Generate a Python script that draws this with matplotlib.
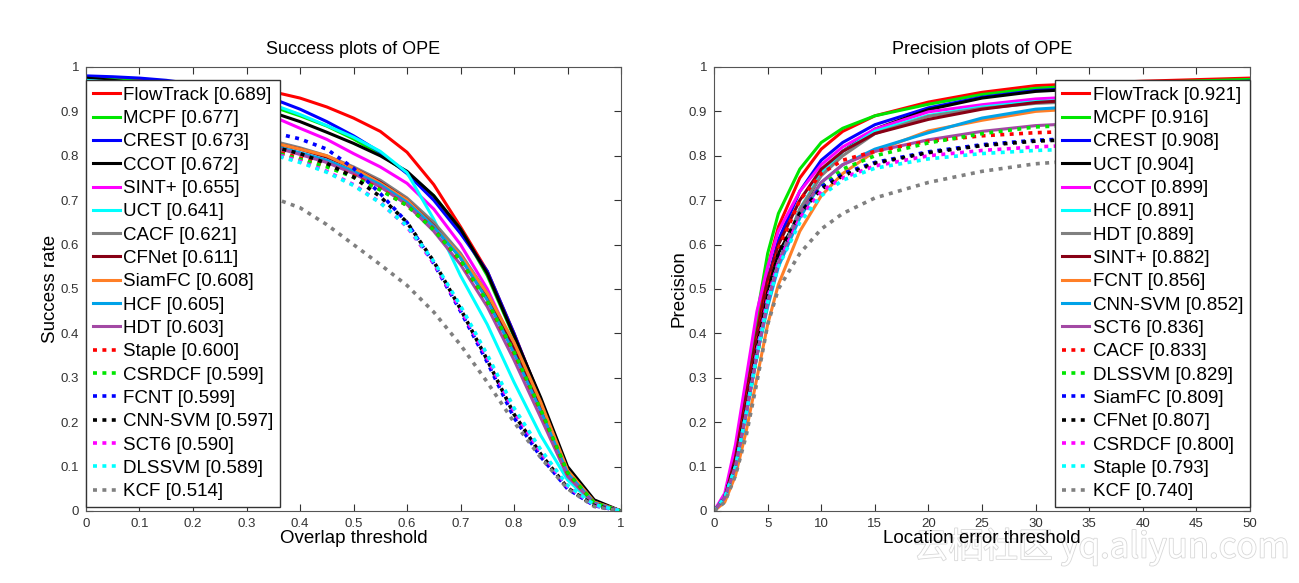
import matplotlib
matplotlib.use("Agg")
import matplotlib.pyplot as plt
import matplotlib.patheffects as pe

plt.rcParams['font.family'] = ['Liberation Sans', 'DejaVu Sans']

# OTB style list: colour per rank, first 11 solid then 7 dotted
colors = [(1, 0, 0), (0, 0.9, 0), (0, 0, 1), (0, 0, 0), (1, 0, 1), (0, 1, 1),
          (0.5, 0.5, 0.5), (136/255, 0, 21/255), (255/255, 127/255, 39/255),
          (0, 162/255, 232/255), (163/255, 73/255, 164/255),
          (1, 0, 0), (0, 0.9, 0), (0, 0, 1), (0, 0, 0), (1, 0, 1), (0, 1, 1),
          (0.5, 0.5, 0.5)]
styles = ['-'] * 11 + [':'] * 7

# ---- Success plot (overlap threshold) ----
succ_thr = [0, .05, .1, .15, .2, .25, .3, .35, .4, .45, .5, .55, .6, .65, .7, .75, .8, .85, .9, .95, 1]
succ_names = ["FlowTrack", "MCPF", "CREST", "CCOT", "SINT+", "UCT", "CACF", "CFNet", "SiamFC",
              "HCF", "HDT", "Staple", "CSRDCF", "FCNT", "CNN-SVM", "SCT6", "DLSSVM", "KCF"]
succ_scores = [0.689, 0.677, 0.673, 0.672, 0.655, 0.641, 0.621, 0.611, 0.608,
               0.605, 0.603, 0.600, 0.599, 0.599, 0.597, 0.590, 0.589, 0.514]
succ_flowtrack = [.975, .973, .970, .967, .963, .958, .952, .944, .930, .910, .885, .855, .808, .735, .640, .540, .400, .250, .095, .020, 0]
succ_mcpf = [.975, .972, .968, .962, .955, .945, .930, .910, .890, .867, .838, .803, .762, .710, .635, .530, .392, .250, .092, .020, 0]
succ_crest = [.980, .978, .975, .970, .962, .952, .941, .928, .905, .877, .845, .808, .760, .700, .625, .540, .400, .248, .090, .020, 0]
succ_ccot = [.975, .970, .963, .955, .943, .930, .915, .897, .877, .853, .828, .800, .765, .710, .635, .535, .395, .255, .100, .025, 0]
succ_sint = [.970, .964, .955, .945, .932, .918, .903, .888, .862, .837, .805, .775, .738, .680, .600, .500, .370, .230, .085, .018, 0]
succ_uct = [.970, .966, .961, .955, .947, .937, .926, .915, .893, .868, .842, .810, .762, .657, .530, .420, .290, .170, .070, .015, 0]
succ_cacf = [.965, .955, .940, .920, .895, .870, .850, .833, .818, .800, .775, .745, .705, .650, .580, .490, .375, .240, .090, .020, 0]
succ_cfnet = [.960, .950, .935, .915, .890, .865, .845, .828, .815, .797, .772, .740, .700, .642, .570, .480, .365, .235, .088, .020, 0]
succ_siamfc = [.960, .950, .935, .913, .888, .862, .843, .829, .815, .800, .772, .738, .700, .640, .575, .490, .380, .245, .092, .020, 0]
succ_hcf = [.960, .950, .935, .913, .888, .862, .840, .822, .807, .790, .765, .735, .695, .640, .570, .475, .355, .225, .085, .018, 0]
succ_hdt = [.960, .950, .935, .913, .888, .862, .840, .820, .803, .785, .760, .730, .690, .630, .555, .460, .340, .210, .078, .016, 0]
succ_staple = [.955, .945, .928, .905, .878, .850, .828, .812, .795, .778, .755, .725, .688, .635, .562, .470, .355, .225, .085, .018, 0]
succ_csrdcf = [.955, .945, .928, .905, .878, .850, .826, .808, .792, .775, .752, .723, .688, .633, .565, .472, .358, .228, .087, .018, 0]
succ_fcnt = [.960, .950, .937, .920, .900, .882, .866, .852, .838, .815, .772, .715, .650, .557, .450, .335, .210, .122, .050, .012, 0]
succ_cnnsvm = [.955, .943, .927, .905, .880, .855, .835, .820, .805, .783, .752, .708, .650, .562, .455, .340, .218, .128, .052, .012, 0]
succ_sct6 = [.955, .943, .925, .902, .875, .847, .822, .805, .788, .765, .735, .695, .640, .558, .455, .345, .225, .132, .055, .013, 0]
succ_dlssvm = [.955, .943, .925, .902, .875, .847, .820, .802, .785, .763, .733, .694, .642, .562, .462, .352, .232, .138, .058, .014, 0]
succ_kcf = [.900, .880, .855, .830, .800, .765, .735, .705, .683, .645, .600, .555, .508, .448, .374, .290, .200, .120, .050, .010, 0]
succ_curves = [succ_flowtrack, succ_mcpf, succ_crest, succ_ccot, succ_sint, succ_uct, succ_cacf,
               succ_cfnet, succ_siamfc, succ_hcf, succ_hdt, succ_staple, succ_csrdcf, succ_fcnt,
               succ_cnnsvm, succ_sct6, succ_dlssvm, succ_kcf]

# ---- Precision plot (location error threshold) ----
prec_thr = [0, 1, 2, 3, 4, 5, 6, 8, 10, 12, 15, 20, 25, 30, 40, 50]
prec_names = ["FlowTrack", "MCPF", "CREST", "UCT", "CCOT", "HCF", "HDT", "SINT+", "FCNT",
              "CNN-SVM", "SCT6", "CACF", "DLSSVM", "SiamFC", "CFNet", "CSRDCF", "Staple", "KCF"]
prec_scores = [0.921, 0.916, 0.908, 0.904, 0.899, 0.891, 0.889, 0.882, 0.856,
               0.852, 0.836, 0.833, 0.829, 0.809, 0.807, 0.800, 0.793, 0.740]
prec_flowtrack = [0, .03, .12, .27, .42, .55, .64, .75, .815, .855, .89, .921, .943, .958, .968, .975]
prec_mcpf = [0, .03, .12, .28, .44, .58, .67, .77, .83, .862, .89, .916, .938, .952, .965, .972]
prec_crest = [0, .03, .11, .25, .39, .52, .61, .72, .79, .83, .87, .908, .932, .947, .96, .968]
prec_uct = [0, .03, .11, .24, .37, .50, .58, .67, .76, .81, .86, .904, .93, .945, .958, .965]
prec_ccot = [0, .04, .15, .30, .45, .55, .63, .72, .78, .82, .86, .899, .915, .928, .94, .948]
prec_hcf = [0, .03, .10, .22, .35, .47, .56, .68, .76, .81, .855, .891, .91, .922, .932, .94]
prec_hdt = [0, .03, .10, .22, .35, .47, .56, .68, .755, .80, .85, .889, .907, .918, .928, .935]
prec_sint = [0, .03, .12, .26, .40, .52, .60, .70, .77, .81, .85, .882, .905, .92, .935, .945]
prec_fcnt = [0, .02, .08, .18, .30, .42, .51, .63, .71, .76, .81, .856, .88, .90, .915, .925]
prec_cnnsvm = [0, .03, .10, .22, .35, .46, .55, .66, .74, .78, .815, .852, .885, .905, .92, .93]
prec_sct6 = [0, .03, .10, .22, .35, .47, .56, .67, .74, .78, .81, .836, .855, .868, .88, .885]
prec_cacf = [0, .03, .11, .24, .38, .50, .59, .70, .76, .79, .81, .833, .845, .852, .86, .865]
prec_dlssvm = [0, .03, .10, .22, .35, .47, .56, .67, .73, .77, .80, .829, .85, .865, .875, .88]
prec_siamfc = [0, .03, .10, .22, .36, .48, .57, .67, .73, .76, .785, .809, .825, .835, .845, .85]
prec_cfnet = [0, .03, .11, .23, .37, .49, .58, .67, .725, .755, .783, .807, .823, .833, .843, .848]
prec_csrdcf = [0, .03, .10, .22, .36, .48, .56, .66, .72, .75, .777, .800, .812, .82, .83, .835]
prec_staple = [0, .03, .10, .22, .35, .47, .55, .65, .71, .745, .772, .793, .805, .812, .82, .825]
prec_kcf = [0, .02, .08, .17, .29, .42, .50, .58, .635, .67, .705, .740, .765, .782, .80, .81]
prec_curves = [prec_flowtrack, prec_mcpf, prec_crest, prec_uct, prec_ccot, prec_hcf, prec_hdt,
               prec_sint, prec_fcnt, prec_cnnsvm, prec_sct6, prec_cacf, prec_dlssvm, prec_siamfc,
               prec_cfnet, prec_csrdcf, prec_staple, prec_kcf]

succ_ticks = [0, 0.1, 0.2, 0.3, 0.4, 0.5, 0.6, 0.7, 0.8, 0.9, 1]
succ_ticklabels = ["0", "0.1", "0.2", "0.3", "0.4", "0.5", "0.6", "0.7", "0.8", "0.9", "1"]
prec_ticks = [0, 5, 10, 15, 20, 25, 30, 35, 40, 45, 50]
y_ticks = succ_ticks
y_ticklabels = succ_ticklabels

fig = plt.figure(figsize=(12.99, 5.83), dpi=100)
ax1 = fig.add_axes([0.0662, 0.1235, 0.4119, 0.7616])
ax2 = fig.add_axes([0.5497, 0.1235, 0.4126, 0.7616])


def draw(ax, thr, curves, names, scores):
    for i, (vals, name, sc) in enumerate(zip(curves, names, scores)):
        if styles[i] == '-':
            ax.plot(thr, vals, color=colors[i], lw=2.2, label=f"{name} [{sc:.3f}]")
        else:
            ax.plot(thr, vals, color=colors[i], lw=2.6, linestyle=(0, (1.1, 1.5)),
                    label=f"{name} [{sc:.3f}]")
    ax.set_ylim(0, 1)
    ax.set_yticks(y_ticks)
    ax.set_yticklabels(y_ticklabels)
    ax.tick_params(direction='in', length=5, top=True, right=True, labelsize=9.5,
                   colors='#333333', pad=5)
    for s in ax.spines.values():
        s.set_color('#555555')


def add_legend(ax, loc, anchor):
    return ax.legend(loc=loc, bbox_to_anchor=anchor, borderaxespad=0,
                     fontsize=13.5, labelspacing=0.33, handlelength=1.45, handletextpad=0.2,
                     borderpad=0.35, fancybox=False, framealpha=1, edgecolor='#333333')


draw(ax1, succ_thr, succ_curves, succ_names, succ_scores)
ax1.set_xlim(0, 1)
ax1.set_xticks(succ_ticks)
ax1.set_xticklabels(succ_ticklabels)
ax1.set_title("Success plots of OPE", fontsize=13, pad=9)
ax1.set_xlabel("Overlap threshold", fontsize=13.5, labelpad=0)
ax1.set_ylabel("Success rate", fontsize=13.5, labelpad=1)
add_legend(ax1, 'center left', (0, 0.49))

draw(ax2, prec_thr, prec_curves, prec_names, prec_scores)
ax2.set_xlim(0, 50)
ax2.set_xticks(prec_ticks)
ax2.set_title("Precision plots of OPE", fontsize=13, pad=9)
ax2.set_xlabel("Location error threshold", fontsize=13.5, labelpad=0)
ax2.set_ylabel("Precision", fontsize=13.5, labelpad=1)
add_legend(ax2, 'center right', (1, 0.49))

# faint site watermark in the lower right corner, kept behind the axis labels
fig.text(0.993, 0.03, "云栖社区 yq.aliyun.com", ha='right', va='bottom', fontsize=25,
         color='white', family=['Noto Sans CJK SC', 'DejaVu Sans'],
         path_effects=[pe.withStroke(linewidth=1.2, foreground='#d8d8d8')], zorder=-1)

fig.savefig("out.png", dpi=100)
